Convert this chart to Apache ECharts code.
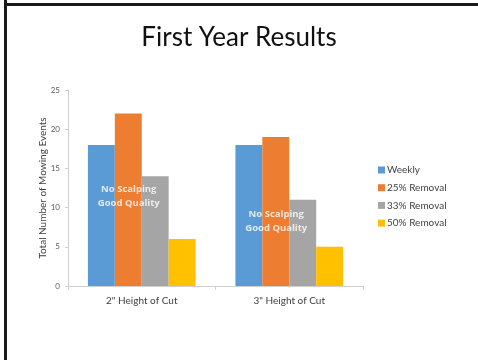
<!DOCTYPE html>
<html>
<head>
<meta charset="utf-8">
<script src="https://cdn.jsdelivr.net/npm/echarts@6/dist/echarts.min.js"></script>
<style>
  html, body { margin: 0; padding: 0; background: #fff; }
  #chart { width: 478px; height: 360px; }
</style>
</head>
<body>
<div id="chart"></div>
<script>
// Mowing events per cutting height and removal rule
const categories = ['2" Height of Cut', '3" Height of Cut'];
const seriesNames = ['Weekly', '25% Removal', '33% Removal', '50% Removal'];
const weekly = [18, 18];
const removal25 = [22, 19];
const removal33 = [14, 11];
const removal50 = [6, 5];
const yTicks = [0, 5, 10, 15, 20, 25];

// Annotation text and the value height where it sits in each group
const noteText = 'No Scalping\nGood Quality';
const noteLevels = [11.4, 8.2];

const colors = ['#5B9BD5', '#ED7D31', '#A5A5A5', '#FFC000'];
const values = [weekly, removal25, removal33, removal50];
const font = 'Lato, "Open Sans", sans-serif';

const chart = echarts.init(document.getElementById('chart'), null, { renderer: 'canvas' });

const series = seriesNames.map((name, i) => ({
  name: name,
  type: 'bar',
  data: values[i],
  barGap: '0%',
  barCategoryGap: '27%',
  itemStyle: { color: colors[i] },
  emphasis: { disabled: true }
}));

// Notes drawn over the bars of each group
series.push({
  name: 'notes',
  type: 'scatter',
  z: 10,
  silent: true,
  symbolSize: 0,
  data: noteLevels.map((v, i) => [i, v]),
  label: {
    show: true,
    position: 'inside',
    formatter: noteText,
    color: '#ffffff',
    fontFamily: '"Open Sans", sans-serif',
    fontWeight: 700,
    fontSize: 9.5,
    lineHeight: 14,
    offset: [-13, 0]
  }
});

chart.setOption({
  animation: false,
  backgroundColor: '#ffffff',
  title: {
    text: 'First Year Results',
    left: 'center',
    top: 20,
    textStyle: { fontFamily: font, fontWeight: 'normal', fontSize: 26, color: '#111111' }
  },
  legend: {
    orient: 'vertical',
    left: 373,
    top: 160,
    itemWidth: 7,
    itemHeight: 7,
    itemGap: 7.7,
    icon: 'rect',
    data: seriesNames,
    textStyle: { fontFamily: font, fontSize: 10, color: '#404040', padding: [0, 0, 0, -3] }
  },
  grid: { left: 68, right: 115, top: 90, bottom: 74 },
  xAxis: {
    type: 'category',
    data: categories,
    axisLine: { lineStyle: { color: '#d0d0d0' } },
    axisTick: { show: true, length: 4, lineStyle: { color: '#d0d0d0' } },
    axisLabel: { fontFamily: font, fontSize: 10, color: '#404040', margin: 10 }
  },
  yAxis: {
    type: 'value',
    min: yTicks[0],
    max: yTicks[yTicks.length - 1],
    interval: yTicks[1] - yTicks[0],
    name: 'Total Number of Mowing Events',
    nameLocation: 'middle',
    nameGap: 20,
    nameMoveOverlap: false,
    nameTextStyle: { fontFamily: font, fontSize: 10, color: '#404040' },
    axisLine: { show: true, lineStyle: { color: '#d0d0d0' } },
    axisTick: { show: true, length: 3, lineStyle: { color: '#d0d0d0' } },
    splitLine: { show: false },
    axisLabel: { fontFamily: font, fontSize: 8, color: '#595959', margin: 8 }
  },
  graphic: [
    { type: 'rect', shape: { x: 4, y: 0, width: 3, height: 360 }, style: { fill: '#1a1a1a' } },
    { type: 'rect', shape: { x: 4, y: 3, width: 474, height: 3 }, style: { fill: '#1a1a1a' } }
  ],
  series: series
});
</script>
</body>
</html>
